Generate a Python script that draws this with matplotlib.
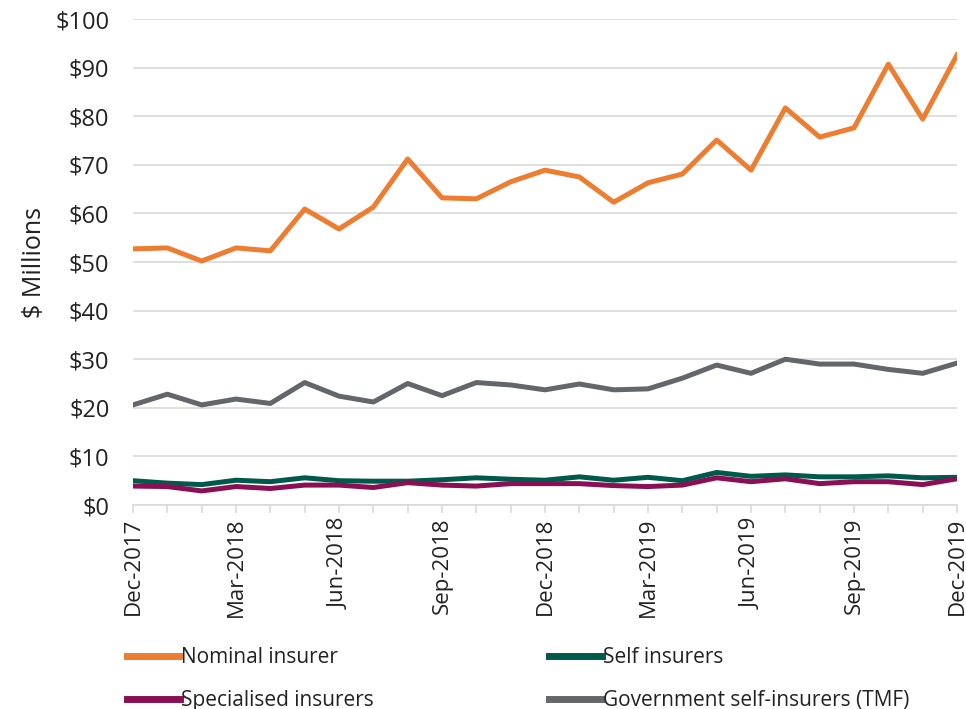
import numpy as np
import matplotlib.pyplot as plt

plt.rcParams['font.family'] = ['Open Sans', 'DejaVu Sans']

# monthly, Dec-2017 .. Dec-2019
months = ['Dec-2017', 'Jan-2018', 'Feb-2018', 'Mar-2018', 'Apr-2018', 'May-2018',
          'Jun-2018', 'Jul-2018', 'Aug-2018', 'Sep-2018', 'Oct-2018', 'Nov-2018',
          'Dec-2018', 'Jan-2019', 'Feb-2019', 'Mar-2019', 'Apr-2019', 'May-2019',
          'Jun-2019', 'Jul-2019', 'Aug-2019', 'Sep-2019', 'Oct-2019', 'Nov-2019',
          'Dec-2019']

nominal = [52.7, 52.9, 50.2, 52.9, 52.3, 60.9, 56.8, 61.3, 71.2, 63.2, 63.0, 66.5,
           68.9, 67.5, 62.3, 66.3, 68.1, 75.1, 68.9, 81.7, 75.7, 77.6, 90.7, 79.4, 92.6]
self_ins = [5.0, 4.5, 4.2, 5.1, 4.8, 5.6, 5.0, 4.9, 4.9, 5.2, 5.6, 5.3,
            5.1, 5.8, 5.1, 5.7, 5.0, 6.7, 5.9, 6.2, 5.8, 5.8, 6.0, 5.6, 5.7]
specialised = [3.9, 3.8, 2.9, 3.8, 3.4, 4.1, 4.1, 3.6, 4.6, 4.1, 3.9, 4.4,
               4.4, 4.4, 4.0, 3.8, 4.1, 5.6, 4.8, 5.4, 4.4, 4.8, 4.8, 4.2, 5.4]
tmf = [20.6, 22.8, 20.6, 21.8, 20.9, 25.2, 22.4, 21.2, 25.0, 22.5, 25.2, 24.7,
       23.7, 24.9, 23.7, 23.9, 26.1, 28.8, 27.1, 30.0, 29.0, 29.0, 27.9, 27.1, 29.2]

x = np.arange(len(months))

fig = plt.figure(figsize=(9.66, 7.09), dpi=100)
ax = fig.add_axes([0.1377, 0.2877, 0.853, 0.6855])

fs = 16
lw = 3.6
ax.plot(x, nominal, color='#ED7D31', lw=lw, label='Nominal insurer', zorder=3)
ax.plot(x, specialised, color='#8A0F55', lw=lw, label='Specialised insurers', zorder=3)
ax.plot(x, self_ins, color='#005A4B', lw=lw, label='Self insurers', zorder=2)
ax.plot(x, tmf, color='#63666A', lw=lw, label='Government self-insurers (TMF)', zorder=3)

ax.set_xlim(0, len(months) - 1)
ax.set_ylim(0, 100)
ax.set_yticks(np.arange(0, 101, 10))
ax.set_yticklabels(['$%d' % v for v in range(0, 101, 10)])
ax.set_xticks(x)
ax.set_xticklabels([m if i % 3 == 0 else '' for i, m in enumerate(months)], rotation=90)

ax.grid(axis='y', color='#D9D9D9', lw=1.2)
ax.set_axisbelow(True)
for s in ['left', 'right', 'top']:
    ax.spines[s].set_visible(False)
ax.spines['bottom'].set_color('#D9D9D9')
ax.spines['bottom'].set_linewidth(1.2)
ax.tick_params(axis='y', length=0, labelsize=17, pad=17, colors='#222222')
ax.tick_params(axis='x', length=6, width=1.2, color='#D9D9D9', labelsize=fs,
               labelcolor='#222222', pad=3)
ax.set_ylabel('$ Millions', fontsize=18, color='#222222', labelpad=6)

fig.legend(loc='lower left', bbox_to_anchor=(0.112, -0.029), ncol=2, frameon=False,
           fontsize=15, handlelength=2.55, handletextpad=0.05, columnspacing=8.4,
           labelspacing=1.05, labelcolor='#222222')
for h in fig.legends[0].get_lines():
    h.set_linewidth(5)

fig.savefig('out.png', dpi=100)
